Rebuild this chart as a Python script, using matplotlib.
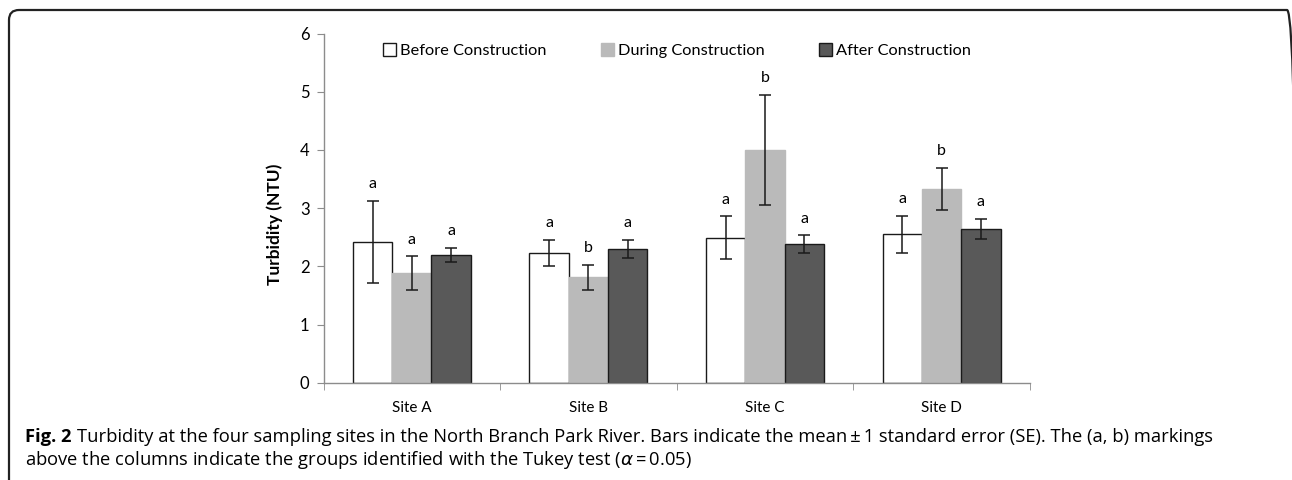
import matplotlib.pyplot as plt
import numpy as np
from matplotlib.patches import Patch, FancyBboxPatch

# --- DATA ---
sites = ["Site A", "Site B", "Site C", "Site D"]
periods = ["Before Construction", "During Construction", "After Construction"]

before_mean = [2.42, 2.23, 2.49, 2.55]
during_mean = [1.88, 1.81, 4.00, 3.33]
after_mean = [2.20, 2.30, 2.38, 2.64]

before_se = [0.70, 0.23, 0.37, 0.32]
during_se = [0.29, 0.22, 0.95, 0.36]
after_se = [0.12, 0.15, 0.15, 0.17]

before_grp = ["a", "a", "a", "a"]
during_grp = ["a", "b", "b", "b"]
after_grp = ["a", "a", "a", "a"]

means = [before_mean, during_mean, after_mean]
errs = [before_se, during_se, after_se]
groups = [before_grp, during_grp, after_grp]

colors = ["white", "#bababa", "#595959"]
edges = ["#1a1a1a", "#bababa", "#1a1a1a"]

chart_font = ["Lato", "DejaVu Sans"]
axis_grey = "#8c8c8c"

# --- PLOTTING ---
fig = plt.figure(figsize=(12.92, 4.8), dpi=100)
ax = fig.add_axes([323.5 / 1292, 1 - 382.7 / 480, (1030 - 323.5) / 1292, (382.7 - 33.5) / 480])

x = np.arange(len(sites))
w = 0.2225
for i in range(3):
    pos = x + (i - 1) * w
    ax.bar(pos, means[i], width=w, color=colors[i], edgecolor=edges[i], linewidth=1.0, zorder=2)
    ax.errorbar(pos, means[i], yerr=errs[i], fmt="none", ecolor="#1a1a1a",
                elinewidth=1.1, capsize=4.5, capthick=1.1, zorder=3)
    # Tukey group letters above the error bars
    for p, m, e, g in zip(pos, means[i], errs[i], groups[i]):
        ax.annotate(g, (p, m + e), xytext=(0, 7), textcoords="offset points",
                    ha="center", va="bottom", fontsize=11.5, family=chart_font)

ax.set_xlim(-0.5, 3.5)
ax.set_ylim(0, 6)
ax.set_yticks(range(7))
ax.set_yticklabels([str(v) for v in range(7)], family=chart_font, fontsize=12)

# site names centred, tick marks at the category boundaries
ax.set_xticks(x)
ax.set_xticklabels(sites, family=chart_font, fontsize=11)
ax.tick_params(axis="x", which="major", length=0, pad=13)
ax.set_xticks(np.arange(-0.5, 4.0, 1.0), minor=True)
ax.tick_params(axis="x", which="minor", length=5, color=axis_grey, direction="out")
ax.tick_params(axis="y", length=5, color=axis_grey, direction="out", pad=5)

for s in ["top", "right"]:
    ax.spines[s].set_visible(False)
for s in ["left", "bottom"]:
    ax.spines[s].set_color(axis_grey)
    ax.spines[s].set_linewidth(1.0)

ax.set_ylabel("Turbidity (NTU)", fontweight="bold", family=chart_font, fontsize=12.5)
ax.yaxis.set_label_coords(-0.058, 0.455)

handles = [Patch(facecolor=colors[i], edgecolor="#1a1a1a" if i != 1 else "#bababa", linewidth=1.0)
           for i in range(3)]
ax.legend(handles, periods, ncol=3, loc="upper center", bbox_to_anchor=(0.5, 1.015),
          frameon=False, handlelength=0.8, handleheight=0.8, handletextpad=0.25,
          columnspacing=3.3, prop={"family": chart_font, "size": 11.8})

# caption
cap_font = ["Open Sans", "DejaVu Sans"]
cap_size = 13.2
fig_lbl = fig.text(25 / 1292, 1 - 437 / 480, "Fig. 2", fontweight="bold", fontsize=cap_size,
                   family=cap_font, va="center", ha="left")
ax.annotate(
    "Turbidity at the four sampling sites in the North Branch Park River. Bars indicate the mean\u2009\u00b1\u20091 standard error (SE). The (a, b) markings",
    xy=(1, 0.5), xycoords=fig_lbl, xytext=(4, 0), textcoords="offset points",
    fontsize=cap_size, family=cap_font, va="center", ha="left", annotation_clip=False)
fig.text(25 / 1292, 1 - 460 / 480,
         "above the columns indicate the groups identified with the Tukey test ($\\alpha$\u2009=\u20090.05)",
         fontsize=cap_size, family=cap_font, va="center", ha="left")

# rounded frame around the figure (right and bottom run off the image)
frame = FancyBboxPatch((0.09, -0.5), 12.88, 4.8 - 0.10 + 0.5,
                       boxstyle="round,pad=0,rounding_size=0.1",
                       transform=fig.dpi_scale_trans, facecolor="none",
                       edgecolor="#222222", linewidth=1.6)
fig.patches.append(frame)

fig.savefig("out.png", dpi=100)
